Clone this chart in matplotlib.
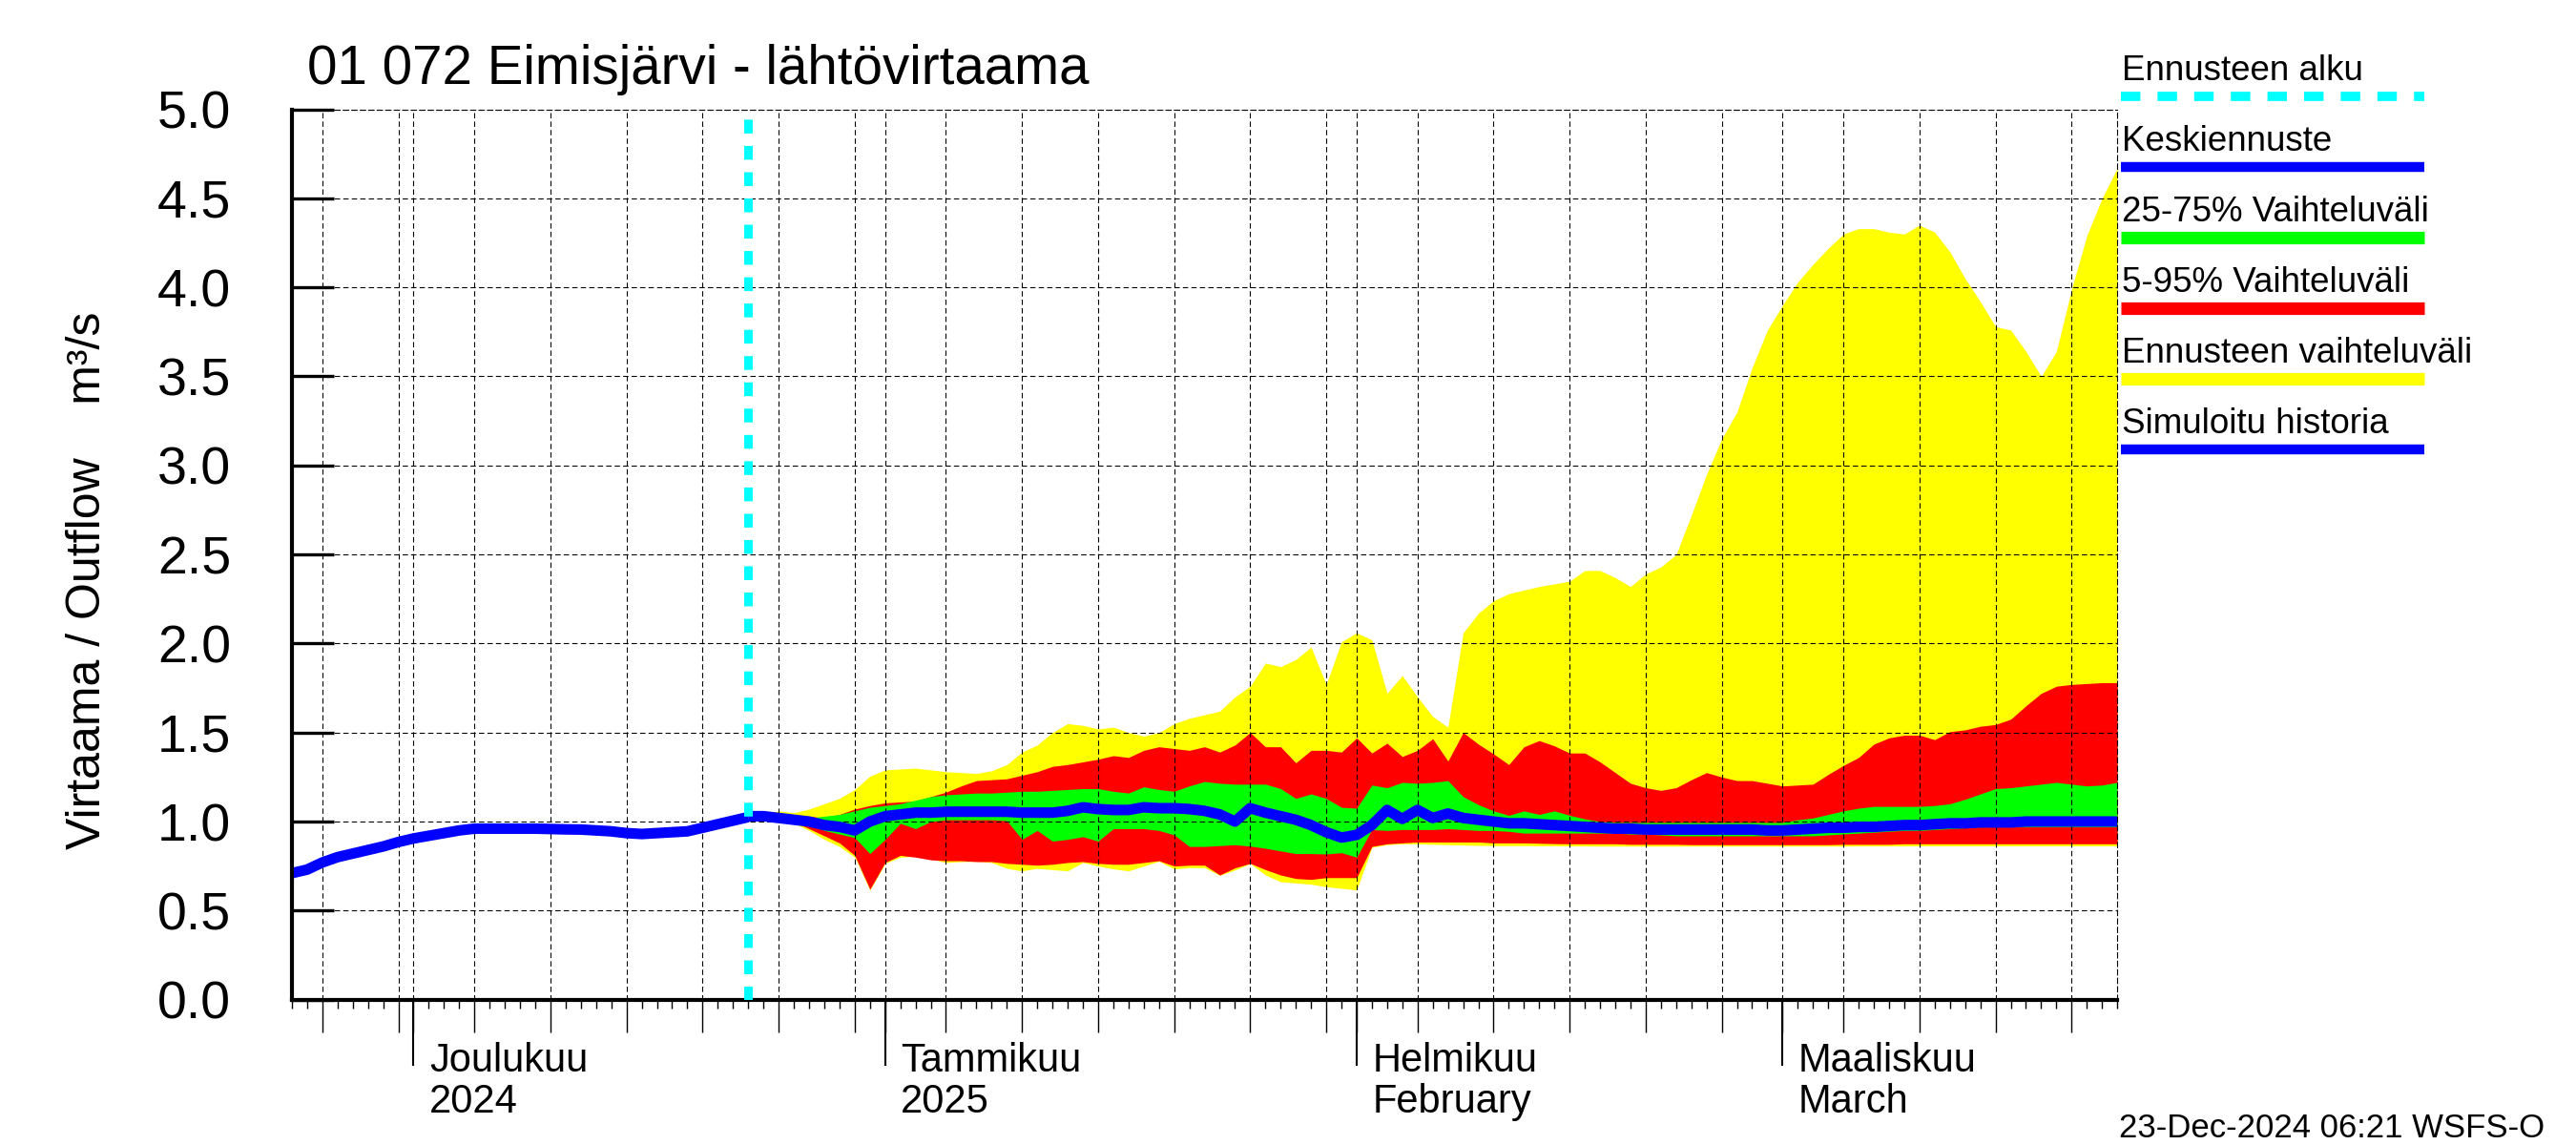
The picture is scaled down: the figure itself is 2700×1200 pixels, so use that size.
import matplotlib
matplotlib.use("Agg")
import matplotlib.pyplot as plt
import matplotlib.dates as mdates
import matplotlib.transforms as mtransforms
from matplotlib.lines import Line2D
import pandas as pd

plt.rcParams['font.family'] = ['Liberation Sans', 'DejaVu Sans']

#========================================================================================
# simulated history, daily from 23 Nov 2024
hist_start = "2024-11-23"
hist_flow = [0.71, 0.73, 0.77, 0.80, 0.82, 0.84, 0.86, 0.885, 0.905, 0.92,
             0.935, 0.95, 0.96, 0.96, 0.96, 0.96, 0.96, 0.958, 0.956, 0.955,
             0.95, 0.945, 0.935, 0.93, 0.935, 0.94, 0.945, 0.965, 0.985, 1.005,
             1.025]

# forecast, daily from 23 Dec 2024
fc_start = "2024-12-23"
fc_median = [1.03, 1.03, 1.02, 1.01, 1.00, 0.98, 0.97, 0.95, 1.00, 1.03,
             1.04, 1.05, 1.05, 1.055, 1.055, 1.055, 1.055, 1.055, 1.05, 1.05,
             1.05, 1.06, 1.08, 1.07, 1.065, 1.065, 1.08, 1.075, 1.075, 1.07,
             1.06, 1.04, 1.00, 1.075, 1.05, 1.03, 1.01, 0.98, 0.94, 0.91,
             0.925, 0.98, 1.065, 1.015, 1.065, 1.02, 1.045, 1.02, 1.01, 1.00,
             0.99, 0.99, 0.985, 0.98, 0.975, 0.97, 0.965, 0.96, 0.96, 0.955,
             0.955, 0.955, 0.955, 0.955, 0.955, 0.955, 0.955, 0.95, 0.95, 0.955,
             0.96, 0.965, 0.965, 0.97, 0.97, 0.975, 0.98, 0.98, 0.985, 0.99,
             0.99, 0.995, 0.995, 0.995, 1.0, 1.0, 1.0, 1.0, 1.0, 1.0, 1.0]
fc_p75 = [1.03, 1.03, 1.03, 1.02, 1.02, 1.03, 1.04, 1.06, 1.08, 1.09,
          1.10, 1.12, 1.14, 1.15, 1.155, 1.16, 1.16, 1.165, 1.17, 1.17,
          1.175, 1.18, 1.185, 1.185, 1.17, 1.16, 1.195, 1.18, 1.17, 1.20,
          1.225, 1.215, 1.21, 1.21, 1.21, 1.185, 1.13, 1.155, 1.13, 1.08,
          1.075, 1.205, 1.19, 1.22, 1.215, 1.22, 1.23, 1.14, 1.095, 1.06,
          1.035, 1.06, 1.04, 1.06, 1.035, 1.015, 1.0, 0.995, 0.995, 0.995,
          0.995, 0.995, 0.995, 0.995, 0.995, 0.995, 0.995, 0.995, 0.995, 1.01,
          1.02, 1.04, 1.06, 1.075, 1.085, 1.085, 1.085, 1.085, 1.09, 1.10,
          1.125, 1.155, 1.185, 1.19, 1.20, 1.21, 1.22, 1.21, 1.20, 1.205, 1.22]
fc_p25 = [1.03, 1.02, 1.01, 1.00, 0.98, 0.95, 0.93, 0.91, 0.82, 0.90,
          0.99, 0.96, 1.00, 1.01, 1.01, 1.01, 1.01, 1.005, 0.90, 0.95,
          0.89, 0.90, 0.915, 0.89, 0.96, 0.96, 0.96, 0.95, 0.925, 0.86,
          0.86, 0.865, 0.87, 0.862, 0.85, 0.835, 0.82, 0.82, 0.818, 0.825,
          0.80, 0.955, 0.95, 0.955, 0.955, 0.955, 0.96, 0.955, 0.95, 0.95,
          0.945, 0.935, 0.935, 0.935, 0.935, 0.935, 0.935, 0.935, 0.93, 0.93,
          0.925, 0.92, 0.92, 0.92, 0.92, 0.92, 0.92, 0.92, 0.92, 0.92,
          0.92, 0.925, 0.93, 0.935, 0.94, 0.945, 0.95, 0.95, 0.955, 0.96,
          0.965, 0.97, 0.97, 0.97, 0.97, 0.97, 0.97, 0.97, 0.97, 0.97, 0.97]
fc_p95 = [1.03, 1.03, 1.03, 1.03, 1.03, 1.02, 1.04, 1.07, 1.09, 1.105,
          1.11, 1.115, 1.14, 1.165, 1.20, 1.23, 1.235, 1.24, 1.26, 1.28,
          1.31, 1.32, 1.335, 1.35, 1.37, 1.36, 1.40, 1.42, 1.41, 1.40,
          1.42, 1.39, 1.43, 1.50, 1.42, 1.42, 1.33, 1.40, 1.40, 1.39,
          1.47, 1.385, 1.44, 1.365, 1.40, 1.465, 1.34, 1.50, 1.435, 1.38,
          1.32, 1.42, 1.455, 1.425, 1.385, 1.385, 1.335, 1.275, 1.215, 1.19,
          1.175, 1.19, 1.235, 1.275, 1.25, 1.23, 1.23, 1.215, 1.20, 1.205,
          1.21, 1.265, 1.315, 1.36, 1.435, 1.47, 1.485, 1.485, 1.46, 1.505,
          1.515, 1.535, 1.545, 1.575, 1.65, 1.72, 1.76, 1.77, 1.775, 1.78, 1.78]
fc_p05 = [1.03, 1.02, 1.01, 1.00, 0.96, 0.92, 0.88, 0.81, 0.62, 0.77,
          0.81, 0.80, 0.785, 0.78, 0.78, 0.775, 0.775, 0.765, 0.76, 0.755,
          0.76, 0.77, 0.775, 0.765, 0.76, 0.76, 0.77, 0.78, 0.75, 0.755,
          0.755, 0.70, 0.74, 0.765, 0.73, 0.70, 0.68, 0.675, 0.685, 0.685,
          0.685, 0.86, 0.875, 0.88, 0.885, 0.885, 0.885, 0.885, 0.885, 0.88,
          0.88, 0.88, 0.878, 0.876, 0.875, 0.875, 0.875, 0.875, 0.872, 0.872,
          0.872, 0.872, 0.87, 0.87, 0.87, 0.87, 0.87, 0.87, 0.87, 0.87,
          0.87, 0.87, 0.872, 0.872, 0.872, 0.872, 0.875, 0.875, 0.875, 0.875,
          0.875, 0.875, 0.875, 0.875, 0.875, 0.875, 0.875, 0.875, 0.875, 0.875, 0.875]
fc_min = [1.03, 1.02, 1.01, 0.99, 0.95, 0.90, 0.86, 0.80, 0.615, 0.765,
          0.80, 0.805, 0.79, 0.77, 0.775, 0.777, 0.77, 0.737, 0.723, 0.737,
          0.73, 0.723, 0.77, 0.75, 0.734, 0.723, 0.75, 0.777, 0.734, 0.741,
          0.741, 0.698, 0.728, 0.764, 0.70, 0.662, 0.655, 0.648, 0.634, 0.625,
          0.616, 0.855, 0.87, 0.875, 0.875, 0.872, 0.87, 0.868, 0.866, 0.865,
          0.865, 0.865, 0.864, 0.864, 0.863, 0.863, 0.862, 0.862, 0.862, 0.862,
          0.862, 0.862, 0.862, 0.862, 0.862, 0.862, 0.862, 0.862, 0.862, 0.862,
          0.862, 0.862, 0.862, 0.863, 0.863, 0.863, 0.863, 0.864, 0.864, 0.864,
          0.864, 0.864, 0.864, 0.864, 0.864, 0.864, 0.864, 0.864, 0.864, 0.864, 0.864]
fc_max = [1.03, 1.04, 1.06, 1.05, 1.07, 1.10, 1.13, 1.18, 1.255, 1.29,
          1.295, 1.30, 1.29, 1.28, 1.275, 1.27, 1.285, 1.32, 1.39, 1.43,
          1.50, 1.55, 1.54, 1.52, 1.53, 1.50, 1.48, 1.50, 1.55, 1.58,
          1.60, 1.62, 1.70, 1.76, 1.89, 1.87, 1.91, 1.98, 1.77, 2.01,
          2.06, 2.02, 1.72, 1.82, 1.70, 1.59, 1.53, 2.06, 2.17, 2.24,
          2.28, 2.30, 2.32, 2.335, 2.35, 2.41, 2.41, 2.37, 2.32, 2.39,
          2.43, 2.50, 2.72, 2.95, 3.15, 3.30, 3.55, 3.76, 3.90, 4.03,
          4.13, 4.22, 4.30, 4.33, 4.33, 4.31, 4.30, 4.35, 4.31, 4.20,
          4.05, 3.92, 3.78, 3.76, 3.64, 3.50, 3.64, 3.99, 4.29, 4.50, 4.67]

months = ["2024-12-01", "2025-01-01", "2025-02-01", "2025-03-01"]
month_top = ["Joulukuu", "Tammikuu", "Helmikuu", "Maaliskuu"]
month_bottom = ["2024", "2025", "February", "March"]

legend_labels = ["Ennusteen alku", "Keskiennuste", "25-75% Vaihteluväli",
                 "5-95% Vaihteluväli", "Ennusteen vaihteluväli", "Simuloitu historia"]
legend_colors = ["#00ffff", "#0000ff", "#00ff00", "#ff0000", "#ffff00", "#0000ff"]

#========================================================================================
hist_dates = pd.date_range(hist_start, periods=len(hist_flow), freq="D")
fc_dates = pd.date_range(fc_start, periods=len(fc_median), freq="D")

fig = plt.figure(figsize=(27, 12), dpi=100)
ax = fig.add_axes([0.1133, 0.127, 0.7086, 0.7775])

ax.fill_between(fc_dates, fc_min, fc_max, color="#ffff00", lw=0, zorder=1)
ax.fill_between(fc_dates, fc_p05, fc_p95, color="#ff0000", lw=0, zorder=1.1)
ax.fill_between(fc_dates, fc_p25, fc_p75, color="#00ff00", lw=0, zorder=1.2)
ax.plot(fc_dates, fc_median, color="#0000ff", lw=8, zorder=2, solid_capstyle="butt")
ax.plot(hist_dates, hist_flow, color="#0000ff", lw=8, zorder=2, solid_capstyle="butt")
ax.axvline(pd.Timestamp(fc_start), color="#00ffff", lw=6.5, ls=(0, (1.6, 1.45)), zorder=4)

ax.set_xlim(pd.Timestamp("2024-11-23"), pd.Timestamp("2025-03-23"))
ax.set_ylim(0, 5)
ax.set_yticks([i * 0.5 for i in range(11)])
ax.set_yticklabels(["%.1f" % (i * 0.5) for i in range(11)])

ax.xaxis.set_major_locator(mdates.DayLocator(bymonthday=[1, 5, 10, 15, 20, 25, 30]))
ax.xaxis.set_minor_locator(mdates.DayLocator())
ax.xaxis.set_major_formatter(plt.NullFormatter())
ax.tick_params(axis="x", which="major", direction="out", length=24.5, width=1.0)
ax.tick_params(axis="x", which="minor", direction="out", length=6.5, width=1.0)
ax.tick_params(axis="y", direction="in", length=32, width=2.4, labelsize=40, pad=46)

ax.set_axisbelow("line")
ax.grid(True, which="major", color="black", lw=0.8, ls=(0, (5, 3)))

for side in ["left", "bottom"]:
    ax.spines[side].set_linewidth(3)
for side in ["top", "right"]:
    ax.spines[side].set_linewidth(0.8)
    ax.spines[side].set_linestyle((0, (5, 3)))

# long month ticks
sec = ax.secondary_xaxis("bottom")
sec.set_xticks([pd.Timestamp(m) for m in months])
sec.xaxis.set_major_formatter(plt.NullFormatter())
sec.tick_params(axis="x", direction="out", length=50, width=1.5)
sec.spines["bottom"].set_visible(False)

trans = mtransforms.blended_transform_factory(ax.transData, fig.transFigure)
for m, top, bottom in zip(months, month_top, month_bottom):
    x = mdates.date2num(pd.Timestamp(m))
    off = mtransforms.offset_copy(trans, fig=fig, x=12, y=0, units="points")
    ax.text(x, 0.0642, top, transform=off, fontsize=30, ha="left", va="baseline")
    ax.text(x, 0.0283, bottom, transform=off, fontsize=30, ha="left", va="baseline")

fig.text(0.1193, 0.927, "01 072 Eimisjärvi - lähtövirtaama", fontsize=40.7, ha="left", va="baseline")
fig.text(0.034, 0.493, "Virtaama / Outflow    m³/s", fontsize=36, rotation=90, ha="center", va="center")
fig.text(0.8226, 0.0067, "23-Dec-2024 06:21 WSFS-O", fontsize=25, ha="left", va="baseline")

# legend on the right
x0, x1 = 0.8233, 0.9411
for i, (lab, col) in enumerate(zip(legend_labels, legend_colors)):
    ytxt = 0.93 - i * 0.0617
    yline = 0.9158 - i * 0.0617
    fig.text(0.8237, ytxt, lab, fontsize=26.5, ha="left", va="baseline")
    if i == 0:
        fig.add_artist(Line2D([x0, x1], [yline, yline], transform=fig.transFigure,
                              color=col, lw=7, ls=(0, (2.1, 1.85)), solid_capstyle="butt"))
    else:
        lw = 7.5 if col == "#0000ff" else 9.5
        fig.add_artist(Line2D([x0, x1], [yline, yline], transform=fig.transFigure,
                              color=col, lw=lw, solid_capstyle="butt"))

fig.savefig("out.png", dpi=100)
